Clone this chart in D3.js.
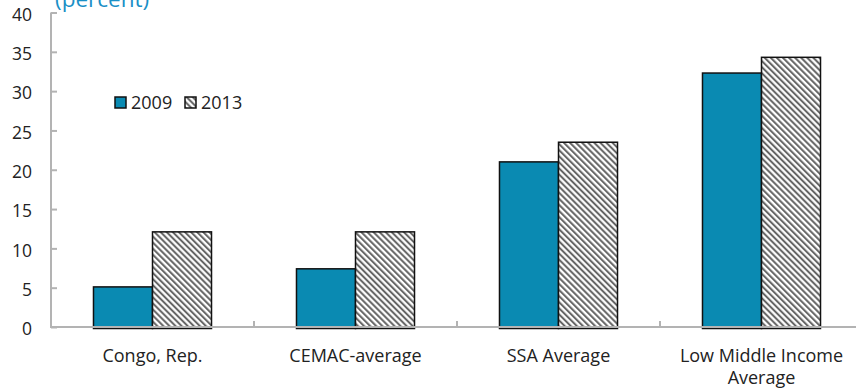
<!DOCTYPE html>
<html>
<head>
<meta charset="utf-8">
<script src="https://cdn.jsdelivr.net/npm/d3@7"></script>
<style>
  html, body { margin: 0; padding: 0; background: #fff; }
  svg { display: block; }
  text { font-family: "Open Sans", "Noto Sans", sans-serif; fill: #222; }
</style>
</head>
<body>
<svg id="chart" width="856" height="391"></svg>
<script>
// Share values by group, in percent
const categories = ["Congo, Rep.", "CEMAC-average", "SSA Average", "Low Middle Income Average"];
const categoryLines = [["Congo, Rep."], ["CEMAC-average"], ["SSA Average"], ["Low Middle Income", "Average"]];
const seriesNames = ["2009", "2013"];
const values2009 = [5.1, 7.4, 21.0, 32.3];
const values2013 = [12.1, 12.1, 23.5, 34.3];
const yTicks = [0, 5, 10, 15, 20, 25, 30, 35, 40];

const svg = d3.select("#chart");
const margin = { left: 51, top: 12.5 };
const plotW = 812;

const defs = svg.append("defs");
const pat = defs.append("pattern")
  .attr("id", "hatch")
  .attr("patternUnits", "userSpaceOnUse")
  .attr("width", 4.3).attr("height", 4.3)
  .attr("patternTransform", "rotate(-45)");
pat.append("rect").attr("width", 4.3).attr("height", 4.3).attr("fill", "#fff");
pat.append("line").attr("x1", 1.1).attr("y1", 0).attr("x2", 1.1).attr("y2", 4.3)
  .attr("stroke", "#5a5a5a").attr("stroke-width", 1.9);

const x = d3.scaleBand().domain(categories)
  .range([margin.left, margin.left + plotW]).paddingInner(0).paddingOuter(0);
const xSub = d3.scaleBand().domain(seriesNames)
  .range([0, x.bandwidth()]).paddingOuter(0.72).paddingInner(0);
const y = d3.scaleLinear().domain([0, 40]).range([327, margin.top]);

// Bars
const fills = { "2009": "#0a8ab2", "2013": "url(#hatch)" };
const rows = categories.map((c, i) => ({ c, v: { "2009": values2009[i], "2013": values2013[i] } }));
const g = svg.append("g");
rows.forEach(r => {
  seriesNames.forEach(s => {
    g.append("rect")
      .attr("x", x(r.c) + xSub(s))
      .attr("y", y(r.v[s]))
      .attr("width", xSub.bandwidth())
      .attr("height", y(0) - y(r.v[s]) + 1.5)
      .attr("fill", fills[s])
      .attr("stroke", "#111")
      .attr("stroke-width", 1.5);
  });
});

// Y axis
const yAxis = d3.axisRight(y).tickValues(yTicks).tickSize(6).tickFormat("");
const ya = svg.append("g").attr("transform", `translate(${margin.left},0)`).call(yAxis);
ya.selectAll("path, line").attr("stroke", "#b3b3b3").attr("stroke-width", 2);
ya.select(".domain").attr("d", `M0,${y(40)}V${y(0)}`);
svg.append("g").selectAll("text").data(yTicks).join("text")
  .attr("x", 32).attr("y", d => y(d) + 2).attr("dy", "0.36em")
  .attr("text-anchor", "end").attr("font-size", 17.5).text(d => d);

// X axis with category boundary ticks
svg.append("line").attr("x1", margin.left - 1).attr("x2", 856)
  .attr("y1", y(0)).attr("y2", y(0)).attr("stroke", "#b3b3b3").attr("stroke-width", 2);
svg.append("g").selectAll("line").data(categories.slice(1)).join("line")
  .attr("x1", d => x(d)).attr("x2", d => x(d))
  .attr("y1", y(0)).attr("y2", y(0) - 6)
  .attr("stroke", "#b3b3b3").attr("stroke-width", 2);
svg.append("g").selectAll("text").data(categories).join("text")
  .attr("text-anchor", "middle").attr("font-size", 18)
  .attr("transform", d => `translate(${x(d) + x.bandwidth() / 2},362)`)
  .each(function (d, i) {
    const t = d3.select(this);
    categoryLines[i].forEach((ln, k) => {
      t.append("tspan").attr("x", 0).attr("y", k * 22).text(ln);
    });
  });

// Title
svg.append("text").attr("x", 55).attr("y", 7).attr("font-size", 22.5)
  .style("fill", "#1a8fc6").text("(percent)");

// Legend
const legend = svg.append("g").attr("transform", "translate(115,97)");
seriesNames.forEach((s, i) => {
  const lg = legend.append("g").attr("transform", `translate(${i * 70},0)`);
  lg.append("rect").attr("width", 11).attr("height", 11)
    .attr("fill", fills[s]).attr("stroke", "#111").attr("stroke-width", 1.5);
  lg.append("text").attr("x", 16).attr("y", 6).attr("dy", "0.36em")
    .attr("font-size", 18).text(s);
});
</script>
</body>
</html>
